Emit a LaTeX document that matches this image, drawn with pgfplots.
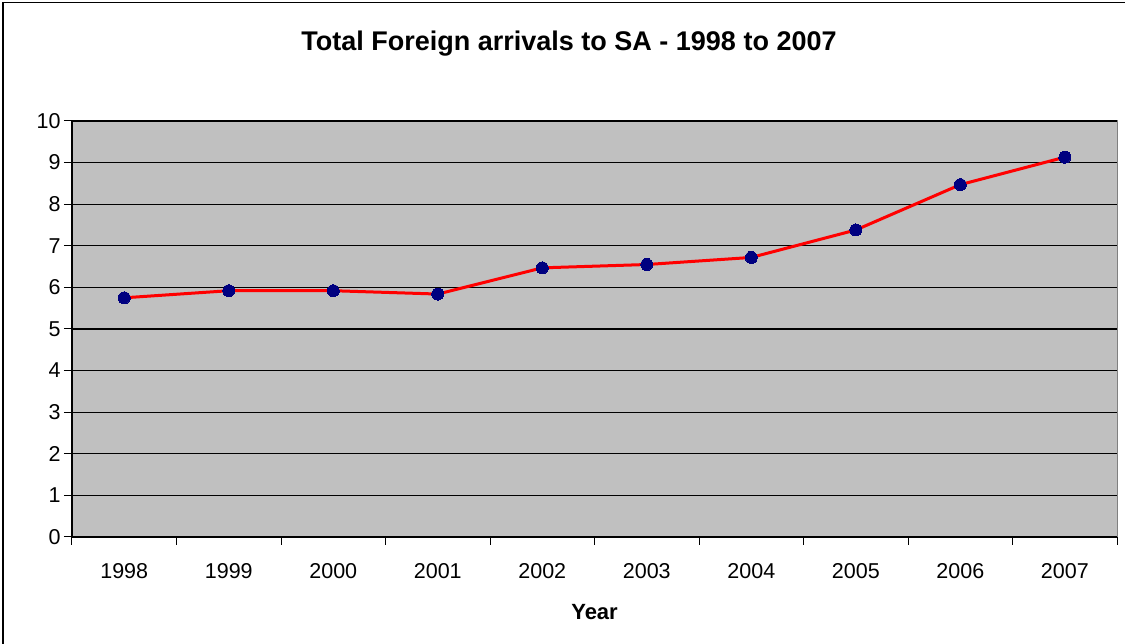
\documentclass[border=0pt]{standalone}
\usepackage{pgfplots}
\pgfplotsset{compat=1.18}
\usepackage{fontspec}
\setmainfont{Liberation Sans}
\definecolor{plotgray}{HTML}{C0C0C0}
\definecolor{navy}{HTML}{000080}
\definecolor{framegray}{HTML}{808080}

\begin{document}
\begin{tikzpicture}[x=1pt,y=1pt]
\useasboundingbox (0,0) rectangle (1125,644);
% outer chart frame (clipped at right and bottom in the reference)
\draw[line width=1.6pt] (3,-5) -- (3,641.5) -- (1130,641.5);
\node[font=\bfseries\fontsize{27}{31}\selectfont] at (569,600) {Total Foreign arrivals to SA - 1998 to 2007};

\begin{axis}[
    at={(72pt,107pt)}, anchor=south west,
    width=1045pt, height=416pt, scale only axis,
    xmin=-0.5, xmax=9.5,
    ymin=0, ymax=10,
    axis x line*=bottom, axis y line*=left,
    axis line style={black, line width=1.4pt},
    axis background/.style={fill=plotgray, draw=framegray, line width=1pt},
    % tick marks sit between the categories, names sit at the centres
    xtick={-0.5,0.5,...,9.5},
    xticklabels={},
    extra x ticks={0,...,9},
    extra x tick labels={1998,1999,2000,2001,2002,2003,2004,2005,2006,2007},
    extra x tick style={major tick length=0pt, grid=none},
    ytick={0,...,10},
    tick align=outside,
    major tick length=8pt,
    tick style={black, line width=1pt},
    ymajorgrids,
    grid style={black, line width=1.2pt},
    /pgf/number format/assume math mode=true,
    ticklabel style={font=\fontsize{21.5}{24}\selectfont},
    xticklabel style={yshift=-23pt},
    xlabel={\bfseries Year},
    xlabel style={font=\fontsize{22}{26}\selectfont, yshift=-11pt},
    clip=false,
]
\addplot[red, line width=3pt, mark=*, mark size=6pt,
    mark options={fill=navy, draw=navy, line width=0pt}]
  coordinates {(0,5.75) (1,5.92) (2,5.92) (3,5.84) (4,6.47) (5,6.55) (6,6.72) (7,7.38) (8,8.47) (9,9.13)};
\end{axis}
\end{tikzpicture}
\end{document}
